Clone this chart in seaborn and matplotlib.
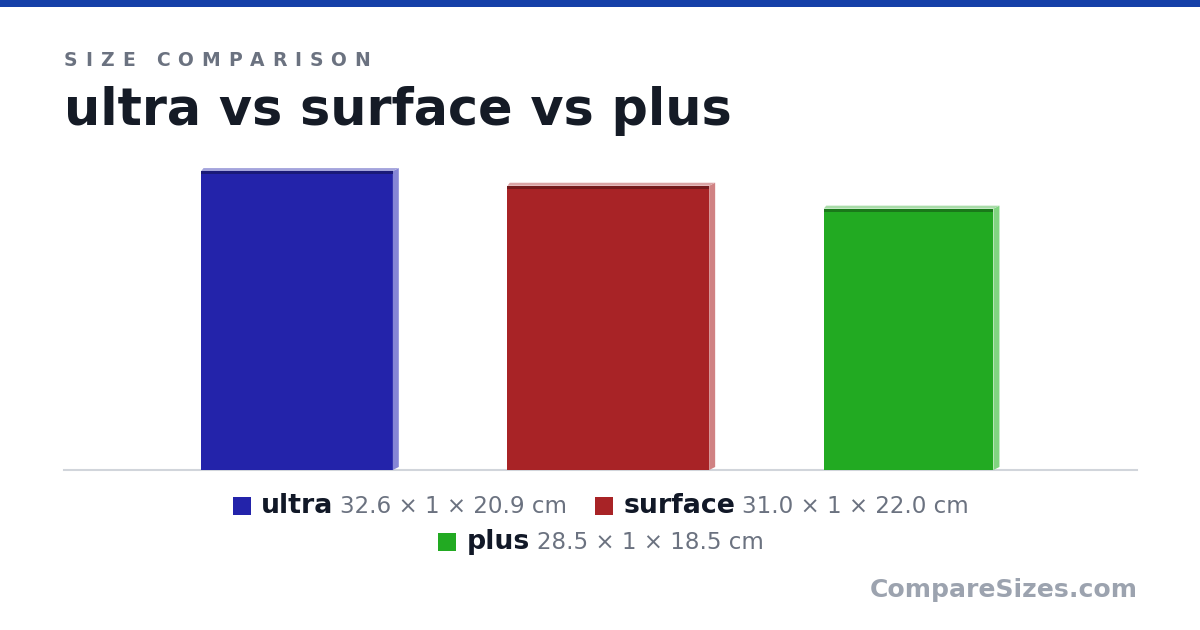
import numpy as np
import pandas as pd
import seaborn as sns
import matplotlib.pyplot as plt
from matplotlib.patches import Polygon, Rectangle

# data (cm)
names = ['ultra', 'surface', 'plus']
heights = [32.6, 31.0, 28.5]
depths = [1, 1, 1]
widths = [20.9, 22.0, 18.5]
colors = ['#2323aa', '#a82326', '#22aa22']
top_dark = ['#1a1a78', '#751a1c', '#1a781a']
top_light = ['#a4a4dc', '#dba4a5', '#a8dca8']
side_col = ['#8686d6', '#d08283', '#80d480']

W, H = 1200, 630
S = 9.17          # px per cm
GAP = 12.5        # cm between bars

sns.set_theme(style='white')
plt.rcParams['font.family'] = ['DejaVu Sans']

fig = plt.figure(figsize=(W / 100, H / 100), dpi=100)
ax = fig.add_axes([64 / W, (H - 470) / H, 1073 / W, 310 / H])

# bar centres from widths + gap
lefts = np.concatenate([[0], np.cumsum(np.array(widths[:-1]) + GAP)])
centers = lefts + np.array(widths) / 2
span = 1073 / S
total = lefts[-1] + widths[-1]
x0 = -(span - total) / 2 + 0.35

df = pd.DataFrame({'name': names, 'center': centers, 'h': heights})
sns.barplot(data=df, x='center', y='h', hue='name', palette=dict(zip(names, colors)),
            native_scale=True, dodge=False, legend=False, saturation=1, ax=ax)

dx, dy = 6 / S, 3 / S
for p in list(ax.patches):
    c = p.get_x() + p.get_width() / 2
    i = int(np.argmin(np.abs(centers - c)))
    l, w, h = lefts[i], widths[i], heights[i]
    p.set_x(l)
    p.set_width(w)
    p.set_linewidth(0)
    # side + top faces for the little 3d look
    ax.add_patch(Polygon([(l + w, 0), (l + w + dx, dy), (l + w + dx, h + dy), (l + w, h)],
                         closed=True, facecolor=side_col[i], lw=0, zorder=1))
    ax.add_patch(Polygon([(l, h), (l + dx * 0.4, h + dy), (l + w + dx, h + dy), (l + w, h)],
                         closed=True, facecolor=top_light[i], lw=0, zorder=1))
    ax.add_patch(Rectangle((l, h - 3 / S), w, 3 / S, facecolor=top_dark[i], lw=0, zorder=3))

ax.set_xlim(x0, x0 + span)
ax.set_ylim(0, 310 / S)
ax.set_xticks([])
ax.set_yticks([])
ax.set_xlabel('')
ax.set_ylabel('')
for s in ['top', 'left', 'right']:
    ax.spines[s].set_visible(False)
ax.spines['bottom'].set_color('#d1d5db')
ax.spines['bottom'].set_linewidth(1.5)
ax.spines['bottom'].set_zorder(0.5)

# header strip
fig.patches.append(Rectangle((0, 1 - 7 / H), 1, 7 / H, transform=fig.transFigure,
                             facecolor='#1540a8', lw=0))

renderer = fig.canvas.get_renderer()


def tw(txt, **kw):
    t = fig.text(0, 0, txt, **kw)
    wpx = t.get_window_extent(renderer).width
    t.remove()
    return wpx


# letter-spaced kicker
sub_kw = dict(fontsize=13.5, fontweight='bold', color='#6b7280', va='baseline')
track = 7.9
x = 64
for ch in 'SIZE COMPARISON':
    if ch != ' ':
        fig.text(x / W, 1 - 66 / H, ch, **sub_kw)
    x += tw(ch if ch != ' ' else 'I', **sub_kw) * (1 if ch != ' ' else 0.77) + track

fig.text(64 / W, 1 - 125 / H, ' vs '.join(names), fontsize=36.6, fontweight='bold',
         color='#151b26', va='baseline')
fig.text(1138 / W, 1 - 597 / H, 'CompareSizes.com', fontsize=18.1, fontweight='bold',
         color='#9ca3af', ha='right', va='baseline')

# legend rows, laid out by measuring text
name_kw = dict(fontsize=19.3, fontweight='bold', color='#111827')
dim_kw = dict(fontsize=16.6, color='#6b7280')
labels = [f'{a:.1f} × {b} × {c:.1f} cm' for a, b, c in zip(heights, depths, widths)]
rows = [[0, 1], [2]]
baselines = [513, 549]
SQ, G1, G2, GI = 18, 10, 7, 28
for row, base in zip(rows, baselines):
    parts = []
    for i in row:
        parts.append((i, tw(names[i], **name_kw), tw(labels[i], **dim_kw)))
    total_w = sum(SQ + G1 + a + G2 + b for _, a, b in parts) + GI * (len(parts) - 1)
    x = W / 2 - total_w / 2 + 1
    for i, a, b in parts:
        fig.patches.append(Rectangle((x / W, 1 - (base + 2) / H), SQ / W, SQ / H,
                                     transform=fig.transFigure, facecolor=colors[i], lw=0))
        x += SQ + G1
        fig.text(x / W, 1 - base / H, names[i], va='baseline', **name_kw)
        x += a + G2
        fig.text(x / W, 1 - base / H, labels[i], va='baseline', **dim_kw)
        x += b + GI

fig.savefig('out.png', dpi=100, facecolor='white')
